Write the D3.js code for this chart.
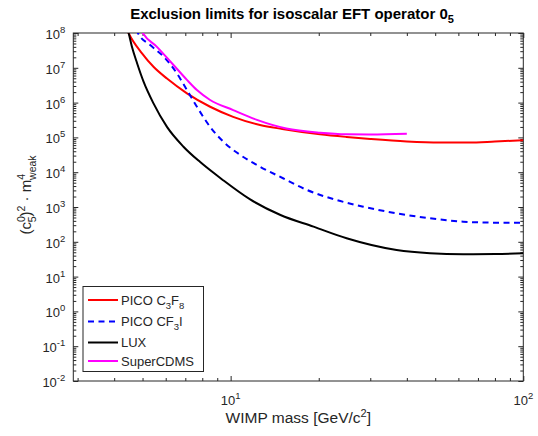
<!DOCTYPE html>
<html><head><meta charset="utf-8">
<script src="https://cdn.jsdelivr.net/npm/d3@7/dist/d3.min.js"></script>
<style>
body{margin:0;background:#fff;}
text{font-family:"Liberation Sans",Arial,Helvetica,sans-serif;fill:#262626;}
</style></head><body>
<svg id="c" width="538" height="436"></svg>
<script>
// ---- data ----
const massRed = [4.4, 4.48, 4.98, 5.45, 6.06, 7.09, 8.51, 10.2, 12.6, 15.0, 20.2, 24.9, 30, 40, 52, 65, 80, 100];
const valRed  = [1.4e8, 1e8, 2.6e7, 1.07e7, 4.9e6, 1.85e6, 7.6e5, 3.9e5, 2.27e5, 1.75e5, 1.23e5, 1.03e5, 9.0e4, 7.6e4, 7.1e4, 7.1e4, 7.6e4, 8.3e4];

const massBlue = [4.75, 4.82, 5.31, 5.90, 6.55, 7.09, 7.67, 8.51, 9.45, 10.8, 12.6, 15.1, 18.2, 23.0, 28.4, 36.9, 48.0, 62.3, 80, 100];
const valBlue  = [1.3e8, 1e8, 4.5e7, 2.1e7, 6.95e6, 2.3e6, 7.6e5, 2.0e5, 7.5e4, 3.1e4, 1.44e4, 6.7e3, 3.1e3, 1.59e3, 1.02e3, 659, 473, 379, 355, 354];

const massBlack = [4.45, 4.48, 4.60, 4.79, 5.04, 5.45, 6.06, 6.90, 7.87, 9.33, 11.66, 14.8, 19.2, 24.9, 36.9, 48, 62.3, 80, 100];
const valBlack  = [1.2e8, 1e8, 4.0e7, 1.35e7, 4.0e6, 9.5e5, 2.0e5, 5.4e4, 1.95e4, 6.3e3, 1.65e3, 589, 272, 126, 58, 46.8, 43.8, 44.5, 46.8];

const massMag = [4.95, 5.01, 5.6, 6.3, 7.09, 7.67, 8.51, 10.2, 12.3, 15.5, 20.2, 24.9, 30, 40];
const valMag  = [1.2e8, 1e8, 4.0e7, 1.35e7, 4.5e6, 2.3e6, 1.19e6, 6.1e5, 3.2e5, 1.8e5, 1.36e5, 1.23e5, 1.22e5, 1.28e5];

const seriesNames = ["PICO C", "PICO CF", "LUX", "SuperCDMS"];
const xMajorTicks = [10, 100];
const xMajorExp = ["1", "2"];
const yMajorExp = [-2, -1, 0, 1, 2, 3, 4, 5, 6, 7, 8];

// ---- layout ----
const L = 73.3, R = 523.3, T = 33, B = 381;
const svg = d3.select("#c");
const x = d3.scaleLog().domain([2.9, 100]).range([L, R]);
const y = d3.scaleLog().domain([1e-2, 1e8]).range([B, T]);
const axisCol = "#262626";

svg.append("defs").append("clipPath").attr("id", "clip")
  .append("rect").attr("x", L).attr("y", T).attr("width", R - L).attr("height", B - T);

// minor ticks
const xMinor = [3,4,5,6,7,8,9,20,30,40,50,60,70,80,90];
const yMinor = [];
yMajorExp.slice(0, -1).forEach(e => { for (let k = 2; k <= 9; k++) yMinor.push(k * Math.pow(10, e)); });
const yMajor = yMajorExp.map(e => Math.pow(10, e));

function styleAxis(g) {
  g.select(".domain").remove();
  g.selectAll("line").attr("stroke", axisCol).attr("stroke-width", 1);
}
svg.append("g").attr("transform", `translate(0,${B})`)
  .call(d3.axisBottom(x).tickValues(xMinor).tickSize(-3).tickFormat("")).call(styleAxis);
svg.append("g").attr("transform", `translate(0,${B})`)
  .call(d3.axisBottom(x).tickValues(xMajorTicks).tickSize(-5).tickFormat("")).call(styleAxis);
svg.append("g").attr("transform", `translate(0,${T})`)
  .call(d3.axisTop(x).tickValues(xMinor).tickSize(-3).tickFormat("")).call(styleAxis);
svg.append("g").attr("transform", `translate(0,${T})`)
  .call(d3.axisTop(x).tickValues(xMajorTicks).tickSize(-5).tickFormat("")).call(styleAxis);
svg.append("g").attr("transform", `translate(${L},0)`)
  .call(d3.axisLeft(y).tickValues(yMinor).tickSize(-3).tickFormat("")).call(styleAxis);
svg.append("g").attr("transform", `translate(${L},0)`)
  .call(d3.axisLeft(y).tickValues(yMajor).tickSize(-5).tickFormat("")).call(styleAxis);
svg.append("g").attr("transform", `translate(${R},0)`)
  .call(d3.axisRight(y).tickValues(yMinor).tickSize(-3).tickFormat("")).call(styleAxis);
svg.append("g").attr("transform", `translate(${R},0)`)
  .call(d3.axisRight(y).tickValues(yMajor).tickSize(-5).tickFormat("")).call(styleAxis);

svg.append("rect").attr("x", L).attr("y", T).attr("width", R - L).attr("height", B - T)
  .attr("fill", "none").attr("stroke", axisCol).attr("stroke-width", 1);

// y tick labels
yMajorExp.forEach(e => {
  const t = svg.append("text").attr("x", L - 8).attr("y", y(Math.pow(10, e)) + 6)
    .attr("text-anchor", "end").style("font-size", "13px");
  t.append("tspan").text("10");
  t.append("tspan").attr("dy", -6).style("font-size", "9.5px").text(String(e));
});
// x tick labels
xMajorTicks.forEach((v, i) => {
  const t = svg.append("text").attr("x", x(v)).attr("y", B + 24)
    .attr("text-anchor", "middle").style("font-size", "13px");
  t.append("tspan").text("10");
  t.append("tspan").attr("dy", -6).style("font-size", "9.5px").text(xMajorExp[i]);
});

// x label
{
  const t = svg.append("text").attr("x", (L + R) / 2).attr("y", 423)
    .attr("text-anchor", "middle").style("font-size", "15.5px");
  t.append("tspan").text("WIMP mass [GeV/c");
  t.append("tspan").attr("dy", -6).style("font-size", "11px").text("2");
  t.append("tspan").attr("dy", 6).text("]");
}
// y label
{
  const t = svg.append("text").attr("transform", `translate(31,195) rotate(-90)`)
    .attr("text-anchor", "middle").style("font-size", "15px");
  t.append("tspan").text("(c");
  t.append("tspan").attr("dy", -6).style("font-size", "10.5px").text("0");
  t.append("tspan").attr("dx", -6).attr("dy", 11).style("font-size", "10.5px").text("5");
  t.append("tspan").attr("dy", -5).text(")");
  t.append("tspan").attr("dy", -6).style("font-size", "10.5px").text("2");
  t.append("tspan").attr("dy", 6).text(" \u00b7 m");
  t.append("tspan").attr("dy", -6).style("font-size", "10.5px").text("4");
  t.append("tspan").attr("dx", -6).attr("dy", 11).style("font-size", "10.5px").text("weak");
}
// title
{
  const t = svg.append("text").attr("x", 292).attr("y", 19)
    .attr("text-anchor", "middle").style("font-size", "15px").style("font-weight", "bold")
    .style("fill", "#000");
  t.append("tspan").text("Exclusion limits for isoscalar EFT operator 0");
  t.append("tspan").attr("dy", 4).style("font-size", "11px").text("5");
}

// curves
const line = d3.line().x(d => x(d[0])).y(d => y(d[1])).curve(d3.curveMonotoneX);
const series = [
  {m: massRed, v: valRed, c: "#ff0000", dash: null},
  {m: massBlue, v: valBlue, c: "#0000ff", dash: "6,4.5"},
  {m: massBlack, v: valBlack, c: "#000000", dash: null},
  {m: massMag, v: valMag, c: "#ff00ff", dash: null}
];
const gc = svg.append("g").attr("clip-path", "url(#clip)");
series.forEach(s => {
  gc.append("path").datum(s.m.map((mm, i) => [mm, s.v[i]]))
    .attr("d", line).attr("fill", "none").attr("stroke", s.c).attr("stroke-width", 2)
    .attr("stroke-dasharray", s.dash);
});

// legend
const lg = svg.append("g");
lg.append("rect").attr("x", 83).attr("y", 286.5).attr("width", 120.5).attr("height", 85)
  .attr("fill", "#fff").attr("stroke", axisCol).attr("stroke-width", 1);
const rowsY = [300, 321.5, 342.5, 361];
series.forEach((s, i) => {
  lg.append("line").attr("x1", 88).attr("x2", 118).attr("y1", rowsY[i]).attr("y2", rowsY[i])
    .attr("stroke", s.c).attr("stroke-width", 2).attr("stroke-dasharray", s.dash);
  const t = lg.append("text").attr("x", 121).attr("y", rowsY[i] + 4.5).style("font-size", "13px");
  t.append("tspan").text(seriesNames[i]);
  if (i === 0) {
    t.append("tspan").attr("dy", 4).style("font-size", "9.5px").text("3");
    t.append("tspan").attr("dy", -4).text("F");
    t.append("tspan").attr("dy", 4).style("font-size", "9.5px").text("8");
  } else if (i === 1) {
    t.append("tspan").attr("dy", 4).style("font-size", "9.5px").text("3");
    t.append("tspan").attr("dy", -4).text("I");
  }
});
</script></body></html>
